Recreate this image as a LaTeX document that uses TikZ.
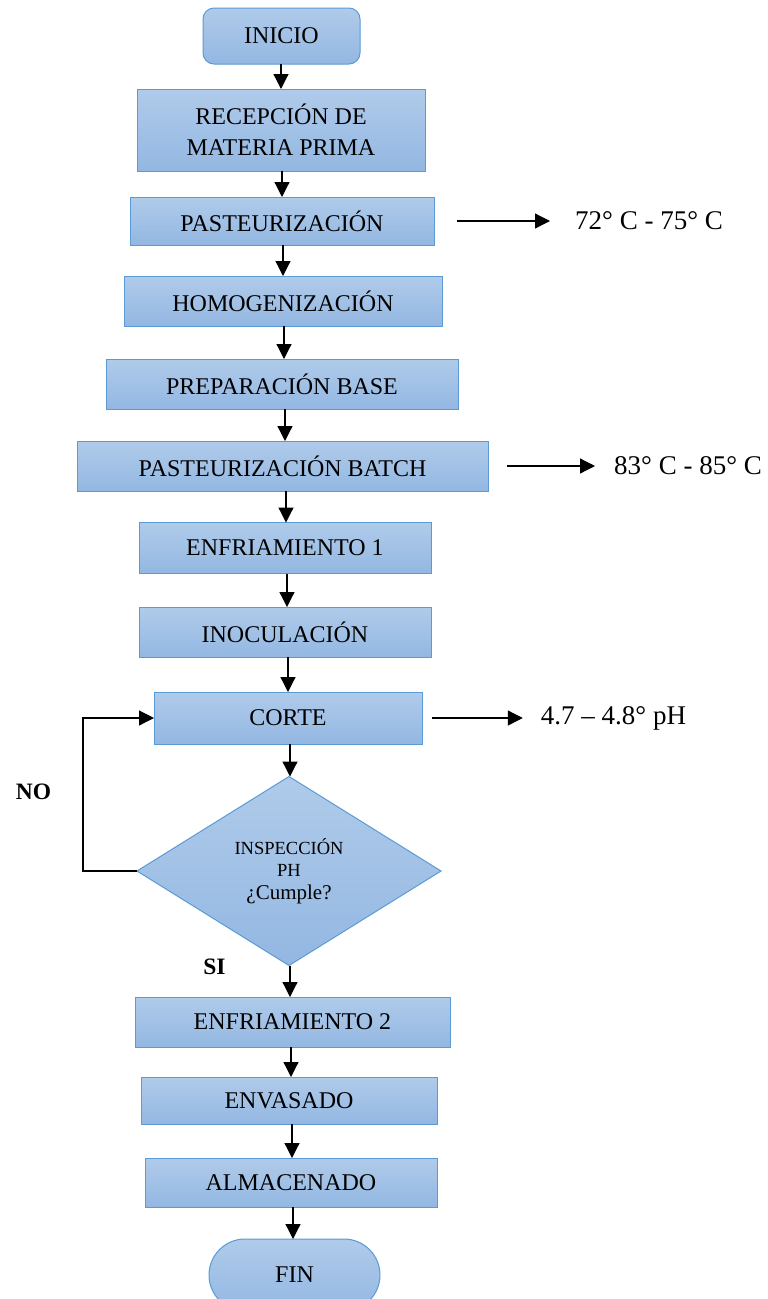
\documentclass[tikz,border=0pt]{standalone}
\usepackage{fontspec}
\setmainfont{Liberation Serif}
\usetikzlibrary{arrows.meta,shapes.geometric,calc}

\definecolor{boxline}{HTML}{5B9BD5}
\definecolor{boxtop}{HTML}{B0CBEA}
\definecolor{boxbot}{HTML}{93B7E2}

\begin{document}
\begin{tikzpicture}[x=1pt,y=-1pt,
  stepbox/.style={draw=boxline, line width=1pt, top color=boxtop, bottom color=boxbot,
    inner sep=0pt, outer sep=0pt, align=center,
    font=\fontsize{24}{31}\selectfont},
  endbox/.style={stepbox, rounded corners=#1},
  decision/.style={stepbox, diamond, shape aspect=1.6, font=\fontsize{18.5}{22.5}\selectfont},
  note/.style={inner sep=0pt, font=\fontsize{27}{30}\selectfont},
  answer/.style={inner sep=0pt, font=\fontsize{23.5}{26}\selectfont\bfseries},
  arr/.style={line width=1.2pt, -{Triangle[length=15pt,width=15pt]}}
]
\useasboundingbox (0,0) rectangle (768,1299);
\begin{scope}
\clip (0,0) rectangle (768,1299);

% process steps
\node[endbox=11pt, minimum width=157pt, minimum height=56pt] (inicio) at (281.5,36) {INICIO};
\node[stepbox, minimum width=288pt, minimum height=82pt] (recep) at (281,130) {RECEPCIÓN DE\\MATERIA PRIMA};
\node[stepbox, minimum width=304pt, minimum height=48pt] (past) at (282,221) {PASTEURIZACIÓN};
\node[stepbox, minimum width=318pt, minimum height=50pt] (homog) at (283,301) {HOMOGENIZACIÓN};
\node[stepbox, minimum width=352pt, minimum height=50pt] (prep) at (282,384) {PREPARACIÓN BASE};
\node[stepbox, minimum width=411pt, minimum height=50pt] (batch) at (282.5,466) {PASTEURIZACIÓN BATCH};
\node[stepbox, minimum width=292pt, minimum height=51pt] (enf1) at (285,548) {ENFRIAMIENTO 1};
\node[stepbox, minimum width=292pt, minimum height=50pt] (inoc) at (285,632) {INOCULACIÓN};
\node[stepbox, minimum width=268pt, minimum height=52pt] (corte) at (288,718) {CORTE};
\node[decision, minimum width=304pt, minimum height=189pt] (insp) at (289,871)
  {INSPECCIÓN\\PH\\{\fontsize{21}{22.5}\selectfont ¿Cumple?}};
\node[stepbox, minimum width=315pt, minimum height=50pt] (enf2) at (292.5,1022) {ENFRIAMIENTO 2};
\node[stepbox, minimum width=296pt, minimum height=47pt] (envas) at (289,1100.5) {ENVASADO};
\node[stepbox, minimum width=292pt, minimum height=49pt] (almac) at (291,1182.5) {ALMACENADO};
\node[endbox=36pt, minimum width=171pt, minimum height=72pt] (fin) at (294.5,1275) {FIN};

% main flow
\draw[arr] (inicio.south -| 281,0) -- (recep.north -| 281,0);
\draw[arr] (recep.south -| 282,0) -- (past.north -| 282,0);
\draw[arr] (past.south -| 283,0) -- (homog.north -| 283,0);
\draw[arr] (homog.south -| 284,0) -- (prep.north -| 284,0);
\draw[arr] (prep.south -| 285,0) -- (batch.north -| 285,0);
\draw[arr] (batch.south -| 286,0) -- (enf1.north -| 286,0);
\draw[arr] (enf1.south -| 287,0) -- (inoc.north -| 287,0);
\draw[arr] (inoc.south -| 288,0) -- (corte.north -| 288,0);
\draw[arr] (corte.south -| 290,0) -- (insp.north -| 290,0);
\draw[arr] (insp.south -| 290,0) -- (enf2.north -| 290,0);
\draw[arr] (enf2.south -| 291,0) -- (envas.north -| 291,0);
\draw[arr] (envas.south -| 292,0) -- (almac.north -| 292,0);
\draw[arr] (almac.south -| 293,0) -- (fin.north -| 293,0);

% rejected branch back to CORTE
\draw[arr] (insp.west) -- (83,871) -- (83,718) -- (corte.west);
\node[answer] (no) at (33.5,792) {NO};
\node[answer] (si) at (214.5,967) {SI};

% process parameters
\node[note] (t1) at (649,221) {72° C - 75° C};
\node[note] (t2) at (688,466) {83° C - 85° C};
\node[note] (t3) at (613.5,718) {4.7 – 4.8° pH};
\coordinate (p1) at (457,221);
\coordinate (p2) at (507,466);
\coordinate (p3) at (432,718);
\draw[arr] (p1) -- ($(t1.west)+(-25,0)$);
\draw[arr] (p2) -- ($(t2.west)+(-19,0)$);
\draw[arr] (p3) -- ($(t3.west)+(-18,0)$);
\end{scope}
\end{tikzpicture}
\end{document}
